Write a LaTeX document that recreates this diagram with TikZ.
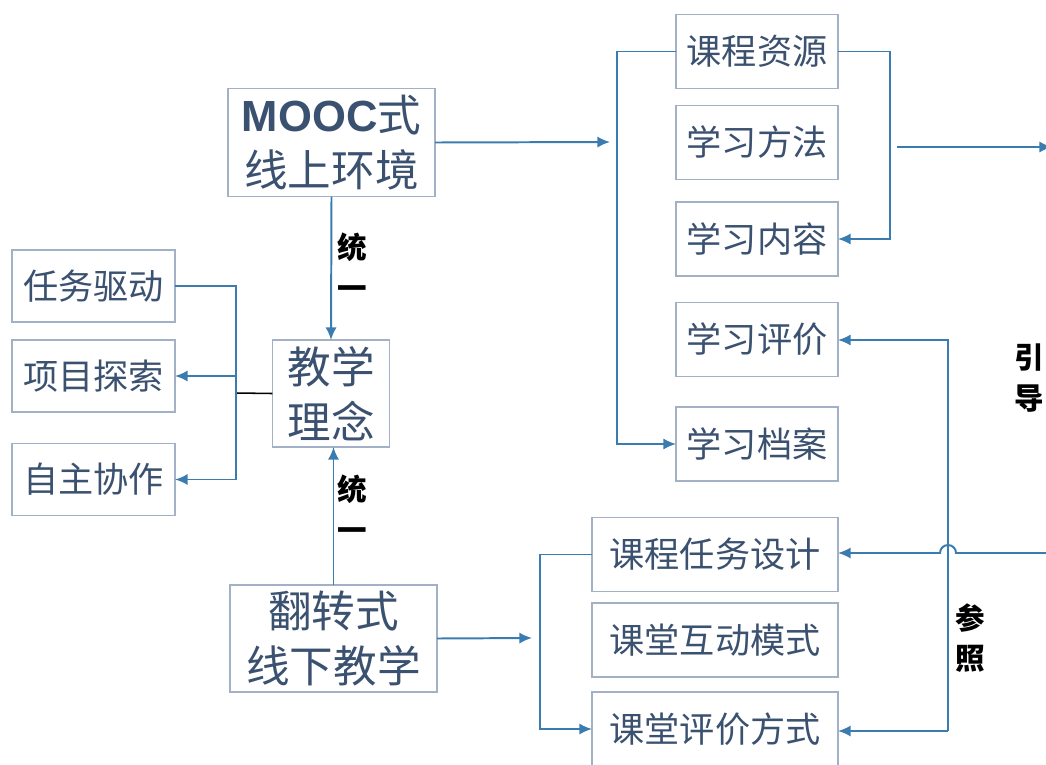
\documentclass[tikz,border=0pt]{standalone}
\usepackage{fontspec}
\setmainfont{Noto Sans CJK SC}
\newfontfamily\arialf{Liberation Sans}
\usetikzlibrary{arrows.meta, positioning}

\definecolor{txtc}{HTML}{3B5170}
\definecolor{boxc}{HTML}{A3B1C6}
\definecolor{arrc}{HTML}{3A7CB0}

\begin{document}
\begin{tikzpicture}[x=0.025cm, y=-0.025cm,
  box/.style={draw=boxc, line width=1.1pt, fill=white, text=txtc, inner sep=0pt, outer sep=0pt, align=center},
  bigbox/.style={box, minimum width=5.175cm, minimum height=2.7cm, font=\fontsize{31}{39}\selectfont},
  midbox/.style={box, minimum width=4.05cm, minimum height=1.85cm, font=\fontsize{25}{30}\selectfont},
  sidebox/.style={box, minimum width=4.075cm, minimum height=1.8cm, font=\fontsize{25}{30}\selectfont},
  widebox/.style={box, minimum width=6.15cm, minimum height=1.85cm, font=\fontsize{25}{30}\selectfont},
  arr/.style={draw=arrc, line width=1.4pt, -{Latex[length=9pt, width=8pt]}},
  lbl/.style={align=center, font=\fontsize{21}{29}\selectfont\bfseries}]

\useasboundingbox (0,0) rectangle (1046,764);

% middle column
\node (mooc)[bigbox] at (331.5,142.5) {{\arialf\bfseries MOOC}式\\线上环境};
\node (linian)[bigbox, minimum width=2.925cm, minimum height=2.675cm] at (331,393.5) {教学\\理念};
\node (fanzhuan)[bigbox, minimum height=2.675cm] at (333.5,638.5) {翻转式\\线下教学};

% left column
\node (renwu)[sidebox] at (93.5,286) {任务驱动};
\node (xiangmu)[sidebox] at (93.5,376) {项目探索};
\node (zizhu)[sidebox] at (93.5,479.5) {自主协作};

% right column
\node (ziyuan)[midbox] at (757,51.5) {课程资源};
\node (fangfa)[midbox] at (757,142.5) {学习方法};
\node (neirong)[midbox] at (757,239) {学习内容};
\node (pingjia)[midbox] at (757,339.5) {学习评价};
\node (dangan)[midbox] at (757,444) {学习档案};

\node (sheji)[widebox] at (715,554.5) {课程任务设计};
\node (hudong)[widebox] at (715,640) {课堂互动模式};
\node (fangshi)[widebox] at (715,729) {课堂评价方式};

% labels
\node (ty1)[lbl] at (352,266) {统\\一};
\node (ty2)[lbl] at (352,508) {统\\一};
\node (yd)[lbl] at (1029,378) {引\\导};
\node (cz)[lbl] at (970,638) {参\\照};

\coordinate (m1) at (610,142);
\coordinate (f1) at (532,638);
\coordinate (yd1) at (897,147);
\coordinate (yd2) at (1052,147);
\coordinate (yd3) at (1052,553);
\coordinate (czt) at (948,340);
\coordinate (czb) at (948,731);
\coordinate (lx) at (236,393);

% connectors
\draw[arr] (mooc.south) -- (linian.north);
\draw[arr] (fanzhuan.north) -- (fanzhuan.north |- linian.south);
\draw[black, line width=1.1pt] (linian.west) -- (lx);
\draw[arr] (renwu.east) -- ++(61,0) |- (zizhu.east);
\draw[arr] (lx |- xiangmu.east) -- (xiangmu.east);

\draw[arr] (mooc.east) -- (m1);
\draw[arr] (ziyuan.west) -- ++(-59,0) |- (dangan.west);
\draw[arr] (ziyuan.east) -- ++(52,0) |- (neirong.east);
\draw[arr] (yd1) -- (yd2);

\draw[arr] (fanzhuan.east) -- (f1);
\draw[arr] (sheji.west) -- ++(-52,0) |- (fangshi.west);

\draw[arr] (czb) -- (czt) -- (czt -| pingjia.east);
\draw[arr] (czb) -- (czb -| fangshi.east);
\draw[arr] (yd3) -- (956,553) arc (0:-180:8) -- (yd3 -| sheji.east);

\end{tikzpicture}
\end{document}
